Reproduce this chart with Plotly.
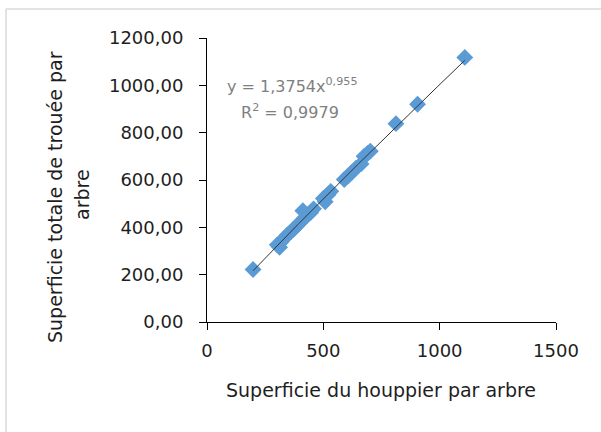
import numpy as np
import plotly.graph_objects as go

# Data
houppier = [198, 302, 312, 318, 330, 345, 360, 372, 385, 398, 412, 420, 432, 445, 458,
            500, 508, 520, 532, 590, 605, 622, 640, 662, 675, 690, 702, 812, 905, 1108]
trouee = [222, 326, 316, 338, 352, 368, 381, 392, 405, 418, 470, 440, 452, 462, 478,
          522, 508, 538, 552, 602, 616, 632, 650, 668, 700, 712, 722, 838, 920, 1118]

x_ticks = [0, 500, 1000, 1500]
x_tick_labels = ["0", "500", "1000", "1500"]
y_ticks = [0, 200, 400, 600, 800, 1000, 1200]
y_tick_labels = ["0,00", "200,00", "400,00", "600,00", "800,00", "1000,00", "1200,00"]

equation_text = "y = 1,3754x<sup>0,955</sup>"
r2_text = "R<sup>2</sup> = 0,9979"

# Power trendline fitted from the data (log-log least squares)
xa = np.array(houppier, dtype=float)
ya = np.array(trouee, dtype=float)
b, ln_a = np.polyfit(np.log(xa), np.log(ya), 1)
xs = np.linspace(xa.min(), xa.max(), 200)
ys = np.exp(ln_a) * xs ** b

FONT = "DejaVu Sans"
TXT = "#1e1e1e"
W, H = 601, 432
L, R, T, B = 207, 45, 38, 110
pw, ph = W - L - R, H - T - B


def px(xp):
    return (xp - L) / pw


def py(yp):
    return 1 - (yp - T) / ph


fig = go.Figure()
fig.add_trace(go.Scatter(
    x=houppier, y=trouee, mode="markers",
    marker=dict(symbol="diamond", size=13, color="#5b9bd5", line=dict(width=0)),
    showlegend=False, hoverinfo="skip"))
fig.add_trace(go.Scatter(
    x=xs, y=ys, mode="lines", line=dict(color="#333333", width=1),
    showlegend=False, hoverinfo="skip"))

axis_common = dict(
    showgrid=False, zeroline=False, showline=True, linecolor="black", linewidth=1,
    ticks="outside", ticklen=7, tickcolor="black", tickwidth=1,
    tickfont=dict(family=FONT, size=18, color=TXT),
)
fig.update_xaxes(range=[0, 1500], tickvals=x_ticks, ticktext=x_tick_labels,
                 ticklabelstandoff=5, **axis_common)
fig.update_yaxes(range=[0, 1200], tickvals=y_ticks, ticktext=y_tick_labels,
                 ticklabelstandoff=12, **axis_common)

annotations = [
    dict(text="Superficie du houppier par arbre", xref="paper", yref="paper",
         x=px(381), y=py(390), showarrow=False, xanchor="center", yanchor="middle",
         font=dict(family=FONT, size=19, color=TXT)),
    dict(text="Superficie totale de trouée par", xref="paper", yref="paper",
         x=px(55), y=py(197), showarrow=False, xanchor="center", yanchor="middle",
         textangle=-90, font=dict(family=FONT, size=19, color=TXT)),
    dict(text="arbre", xref="paper", yref="paper",
         x=px(82), y=py(195), showarrow=False, xanchor="center", yanchor="middle",
         textangle=-90, font=dict(family=FONT, size=19, color=TXT)),
    dict(text=equation_text, xref="paper", yref="paper",
         x=px(292), y=py(85), showarrow=False, xanchor="center", yanchor="middle",
         font=dict(family=FONT, size=16, color="#7f7f7f")),
    dict(text=r2_text, xref="paper", yref="paper",
         x=px(290), y=py(111), showarrow=False, xanchor="center", yanchor="middle",
         font=dict(family=FONT, size=16, color="#7f7f7f")),
]

shapes = [
    dict(type="line", xref="paper", yref="paper", x0=px(6), x1=px(605), y0=py(9), y1=py(9),
         line=dict(color="#e3e3e3", width=2)),
    dict(type="line", xref="paper", yref="paper", x0=px(6), x1=px(6), y0=py(9), y1=py(440),
         line=dict(color="#e3e3e3", width=2)),
]

fig.update_layout(
    width=W, height=H,
    margin=dict(l=L, r=R, t=T, b=B, pad=0),
    paper_bgcolor="white", plot_bgcolor="white",
    annotations=annotations, shapes=shapes,
    showlegend=False,
)

fig.write_html("out.html")
